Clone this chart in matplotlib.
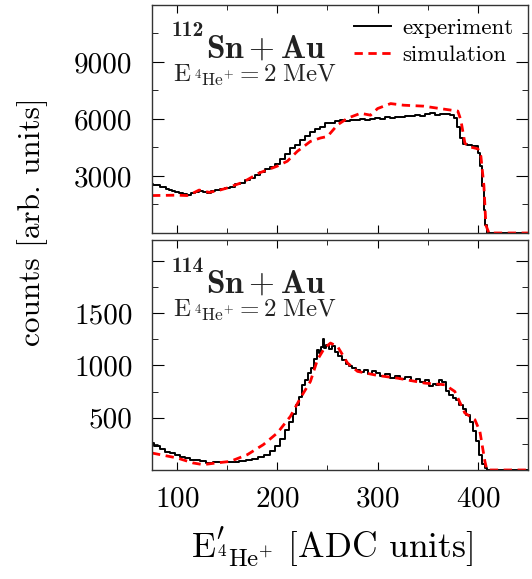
import matplotlib
matplotlib.use("Agg")
import matplotlib.pyplot as plt
import numpy as np

plt.rcParams['font.family'] = ['cmr10']
plt.rcParams['mathtext.fontset'] = 'cm'
plt.rcParams['axes.formatter.use_mathtext'] = True

# 112Sn + Au (top panel)
x_exp_112 = [75, 78, 81, 84, 87, 90, 93, 96, 100, 104, 108, 112, 116, 120, 124, 128, 132, 136, 140, 145,
             150, 155, 160, 165, 170, 175, 180, 185, 190, 195, 200, 205, 210, 215, 220, 225, 230, 235,
             240, 245, 250, 255, 260, 265, 270, 275, 280, 285, 290, 295, 300, 305, 310, 315, 320, 325,
             330, 335, 340, 345, 350, 355, 360, 365, 370, 375, 378, 381, 384, 387, 392, 396, 399, 401,
             403, 405, 407, 408, 410, 450]
y_exp_112 = [2570, 2520, 2540, 2430, 2400, 2330, 2280, 2200, 2140, 2110, 2060, 2020, 2080, 2150, 2190,
             2160, 2130, 2190, 2240, 2290, 2350, 2440, 2560, 2650, 2780, 2900, 3060, 3200, 3380, 3480,
             3610, 3900, 4150, 4480, 4650, 4900, 5100, 5300, 5450, 5600, 5775, 5800, 5900, 5930, 5900,
             5960, 5930, 5990, 5950, 6010, 6070, 6020, 6080, 6060, 6120, 6100, 6170, 6150, 6200, 6180,
             6240, 6300, 6220, 6260, 6240, 6200, 6030, 5600, 5000, 4700, 4620, 4600, 4580, 4220, 3500,
             2490, 1200, 410, 0, 0]
x_sim_112 = [75, 100, 110, 116, 122, 132, 141, 150, 166, 182, 200, 210, 220, 233, 243, 250, 260, 270,
             283, 293, 300, 313, 326, 346, 366, 380, 383, 387, 390, 400, 403, 406, 408, 411, 450]
y_sim_112 = [1970, 1990, 1970, 2100, 2260, 2140, 2230, 2370, 2680, 3160, 3520, 3780, 4300, 4820, 5000,
             5080, 5690, 6040, 6300, 6200, 6550, 6810, 6725, 6675, 6520, 6415, 5950, 4740, 4560, 4430,
             4040, 2490, 410, 0, 0]

# 114Sn + Au (bottom panel)
x_exp_114 = [75, 80, 85, 90, 95, 100, 105, 110, 116, 120, 125, 132, 140, 150, 158, 166, 172, 178, 184,
             190, 195, 200, 205, 210, 214, 217, 220, 223, 226, 229, 232, 235, 238, 241, 243, 245, 246,
             247, 250, 253, 256, 259, 263, 266, 270, 273, 276, 280, 284, 288, 292, 296, 300, 305, 310,
             315, 320, 325, 330, 336, 340, 345, 350, 353, 357, 360, 363, 366, 370, 373, 377, 380, 383,
             387, 390, 394, 397, 400, 403, 406, 408, 410, 450]
y_exp_114 = [258, 225, 200, 175, 160, 146, 128, 110, 98, 95, 82, 67, 72, 73, 78, 82, 95, 105, 120, 145,
             180, 230, 300, 380, 460, 540, 624, 700, 815, 860, 930, 975, 1060, 1150, 1120, 1180, 1255,
             1170, 1198, 1160, 1182, 1130, 1086, 1050, 1010, 990, 975, 960, 935, 955, 920, 945, 927, 900,
             915, 880, 900, 870, 890, 847, 875, 840, 860, 800, 820, 810, 860, 840, 760, 720, 690, 670,
             624, 580, 529, 460, 369, 280, 146, 60, 19, 0, 0]
x_sim_114 = [75, 100, 116, 126, 139, 153, 170, 186, 200, 213, 223, 233, 240, 247, 253, 260, 270, 280,
             300, 320, 347, 367, 377, 387, 397, 402, 407, 409, 450]
y_sim_114 = [162, 115, 67, 51, 67, 82, 146, 242, 354, 512, 688, 847, 1054, 1166, 1214, 1182, 1023, 943,
             904, 878, 831, 815, 751, 545, 481, 369, 82, 0, 0]

panels = [
    (x_exp_112, y_exp_112, x_sim_112, y_sim_112, '112', (0, 12000), [3000, 6000, 9000], 3000, 1500),
    (x_exp_114, y_exp_114, x_sim_114, y_sim_114, '114', (0, 2200), [500, 1000, 1500], 500, 250),
]

fig = plt.figure(figsize=(5.32, 5.79), dpi=100)
ax_top = fig.add_axes([0.2857, 0.5976, 0.7068, 0.3938])
ax_bot = fig.add_axes([0.2857, 0.1883, 0.7068, 0.3972])

for ax, (xe, ye, xs, ys, iso, ylim, labs, maj, mnr) in zip([ax_top, ax_bot], panels):
    ax.step(xe, ye, where='mid', color='black', lw=1.4, label='experiment')
    ax.plot(xs, ys, color='red', lw=2.0, ls=(0, (3, 2)), label='simulation')
    ax.set_xlim(75, 450)
    ax.set_ylim(*ylim)
    ax.set_xticks([100, 200, 300, 400])
    ax.set_xticks(np.arange(100, 451, 50), minor=True)
    majors = np.arange(maj, ylim[1], maj)
    ax.set_yticks(majors)
    ax.set_yticklabels([str(v) if v in labs else '' for v in majors])
    ax.set_yticks(np.arange(mnr, ylim[1], mnr), minor=True)
    ax.tick_params(which='both', direction='in', top=True, right=True, labelsize=21)
    ax.tick_params(axis='y', which='major', length=8.5, pad=14)
    ax.tick_params(axis='y', which='minor', length=4.5)
    ax.tick_params(axis='x', which='major', length=6, pad=12)
    ax.tick_params(axis='x', which='minor', length=3.5)
    for sp in ax.spines.values():
        sp.set_linewidth(1.0)
        sp.set_color('#333333')
    # mass number as a bold superscript, then the bold reaction text
    ax.text(0.052, 0.862, iso, transform=ax.transAxes, family='cmb10',
            fontsize=15.5, va='baseline', ha='left', color='#222222')
    ax.text(0.143, 0.77, r'$\mathbf{Sn+Au}$', transform=ax.transAxes,
            fontsize=24, va='baseline', ha='left', color='#222222')
    ax.text(0.055, 0.665, r'$\mathrm{E}_{\,^{4}\mathrm{He}^{+}} = 2\;\mathrm{MeV}$', transform=ax.transAxes,
            fontsize=18, va='baseline', ha='left', color='#222222')

ax_top.tick_params(axis='x', labelbottom=False)
ax_top.legend(loc='upper right', bbox_to_anchor=(1.0, 1.01), frameon=False, fontsize=16.5,
              handlelength=1.6, handletextpad=0.5, labelspacing=0.3, borderaxespad=0.25)

fig.text(0.062, 0.617, 'counts [arb. units]', rotation=90, ha='center', va='center', fontsize=22.5)
fig.text(0.624, 0.055, r"$\mathrm{E}^{\prime}_{^{4}\mathrm{He}^{+}}$ [ADC units]", ha='center', va='center',
         fontsize=25.5)

fig.savefig('out.png', dpi=100)
